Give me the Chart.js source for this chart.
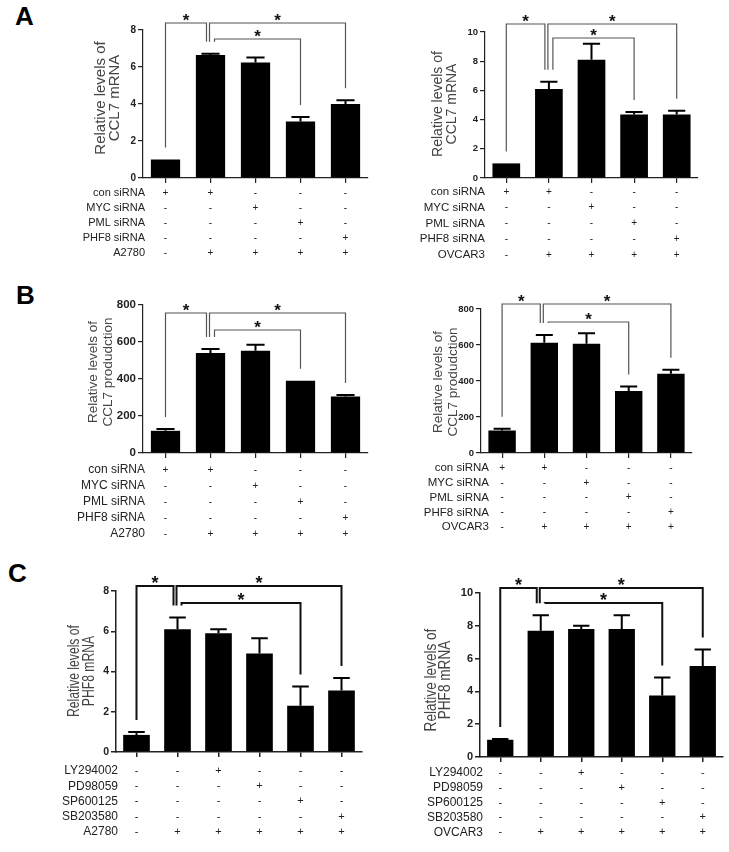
<!DOCTYPE html>
<html>
<head>
<meta charset="utf-8">
<script src="https://cdn.jsdelivr.net/npm/chart.js@4.4.1/dist/chart.umd.min.js"></script>
<style>
  body { margin: 0; background: #fff; width: 729px; height: 852px; position: relative; overflow: hidden; }
  canvas { position: absolute; }
  .letter { position: absolute; font: bold 26px "Liberation Sans", Arial, sans-serif; line-height: 26px; color: #000; }
</style>
</head>
<body>
<div class="letter" style="left:15px;top:3px">A</div>
<div class="letter" style="left:16px;top:282px">B</div>
<div class="letter" style="left:8px;top:560px">C</div>

<canvas id="aLeft"></canvas>
<canvas id="aRight"></canvas>
<canvas id="bLeft"></canvas>
<canvas id="bRight"></canvas>
<canvas id="cLeft"></canvas>
<canvas id="cRight"></canvas>

<script>
/* DATA */

const sirnaLanes = ['Mock', 'con siRNA', 'MYC siRNA', 'PML siRNA', 'PHF8 siRNA'];
const inhibitorLanes = ['Mock', 'Vehicle', 'LY294002', 'PD98059', 'SP600125', 'SB203580'];

// A: CCL7 mRNA
const ccl7MrnaA2780 = [1.0, 6.65, 6.25, 3.05, 4.0];
const ccl7MrnaA2780Err = [0, 0.06, 0.27, 0.25, 0.2];
const ccl7MrnaOvcar3 = [1.0, 6.1, 8.1, 4.35, 4.35];
const ccl7MrnaOvcar3Err = [0, 0.5, 1.1, 0.17, 0.25];

// B: CCL7 production
const ccl7ProdA2780 = [120, 540, 553, 390, 305];
const ccl7ProdA2780Err = [10, 22, 32, 0, 8];
const ccl7ProdOvcar3 = [125, 612, 607, 345, 440];
const ccl7ProdOvcar3Err = [10, 43, 58, 25, 22];

// C: PHF8 mRNA
const phf8MrnaA2780 = [0.85, 6.1, 5.9, 4.9, 2.3, 3.05];
const phf8MrnaA2780Err = [0.15, 0.58, 0.2, 0.75, 0.95, 0.63];
const phf8MrnaOvcar3 = [1.05, 7.7, 7.8, 7.8, 3.75, 5.55];
const phf8MrnaOvcar3Err = [0.05, 0.95, 0.2, 0.85, 1.1, 1.0];

// y tick labels
const ticksTo8 = [0, 2, 4, 6, 8];
const ticksTo10 = [0, 2, 4, 6, 8, 10];
const ticksTo800 = [0, 200, 400, 600, 800];

// treatment table under the bars
const sirnaRowLabels = ['con siRNA', 'MYC siRNA', 'PML siRNA', 'PHF8 siRNA'];
const sirnaSigns = [
  ['+', '+', '-', '-', '-'],
  ['-', '-', '+', '-', '-'],
  ['-', '-', '-', '+', '-'],
  ['-', '-', '-', '-', '+']
];
const inhibitorRowLabels = ['LY294002', 'PD98059', 'SP600125', 'SB203580'];
const inhibitorSigns = [
  ['-', '-', '+', '-', '-', '-'],
  ['-', '-', '-', '+', '-', '-'],
  ['-', '-', '-', '-', '+', '-'],
  ['-', '-', '-', '-', '-', '+']
];
const cellSigns5 = ['-', '+', '+', '+', '+'];
const cellSigns6 = ['-', '+', '+', '+', '+', '+'];

// significance brackets (lane pairs); the third one sits on the lower tier
const sigSirna = [[0, 1], [1, 4], [1, 3]];
const sigInhibitor = [[0, 1], [1, 5], [1, 4]];


/* OVERLAY: error bars, brackets, treatment table, y title */

const overlay = {
  id: 'overlay',
  afterDatasetsDraw(chart, args, o) {
    const c = chart.ctx;
    const ys = chart.scales.y;
    const xs = chart.scales.x;
    const bars = chart.getDatasetMeta(0).data;
    const ox = o.box[0], oy = o.box[1];
    const vals = o.values, errs = o.errors;
    c.save();

    // error bars
    c.strokeStyle = '#000';
    c.lineWidth = 2;
    bars.forEach(function(b, i) {
      if (!errs[i]) return;
      const top = ys.getPixelForValue(vals[i] + errs[i]);
      const half = b.width * 0.31;
      c.beginPath();
      c.moveTo(b.x, b.y);
      c.lineTo(b.x, top);
      c.moveTo(b.x - half, top);
      c.lineTo(b.x + half, top);
      c.stroke();
    });

    // brackets + stars
    const legEnd = i => ys.getPixelForValue(vals[i] + errs[i]) - 12;
    c.strokeStyle = o.heavy ? '#111' : '#555';
    c.lineWidth = o.heavy ? 2 : 1.2;
    c.fillStyle = '#111';
    c.font = 'bold ' + (o.heavy ? 18 : 17) + 'px "Liberation Sans", Arial, sans-serif';
    c.textAlign = 'center';
    c.textBaseline = 'alphabetic';
    o.brackets.forEach(function(pair, k) {
      const tier = k < 2 ? 0 : 1;
      const ly = o.tierY[tier] - oy;
      const a = pair[0], b = pair[1];
      let xa = xs.getPixelForValue(a);
      let xb = xs.getPixelForValue(b);
      if (a === 1) xa += tier === 0 ? -1 : 4;
      if (b === 1) xb -= 4;
      c.beginPath();
      c.moveTo(xa, legEnd(a));
      c.lineTo(xa, ly);
      c.lineTo(xb, ly);
      c.lineTo(xb, legEnd(b));
      c.stroke();
      c.fillText('*', (xa + xb) / 2, ly + 2.5);
    });

    // treatment table
    const rows = o.rowLabels.concat([o.cellLine]);
    const signs = o.signs.concat([o.cellSigns]);
    c.fillStyle = '#222';
    c.textBaseline = 'middle';
    rows.forEach(function(lab, r) {
      const ry = o.rowY0 + r * o.rowStep - oy;
      c.font = o.labelSize + 'px "Liberation Sans", Arial, sans-serif';
      c.textAlign = 'right';
      c.fillText(lab, o.labelRight - ox, ry);
      c.font = o.signSize + 'px "Liberation Sans", Arial, sans-serif';
      c.textAlign = 'center';
      signs[r].forEach(function(s, i) {
        c.fillText(s, xs.getPixelForValue(i), ry);
      });
    });

    // rotated y title
    c.fillStyle = '#444';
    c.textBaseline = 'alphabetic';
    c.font = o.titleSize + 'px "Liberation Sans", Arial, sans-serif';
    o.title.forEach(function(line, k) {
      c.save();
      c.translate(o.titleX[k] - ox, o.titleY - oy);
      c.rotate(-Math.PI / 2);
      c.scale(o.titleScale, 1);
      c.textAlign = 'center';
      c.fillText(line, 0, o.titleSize * 0.36);
      c.restore();
    });

    c.restore();
  }
};


function makePanel(id, p) {
  const el = document.getElementById(id);
  const box = p.box, plot = p.plot;
  el.width = box[2];
  el.height = box[3];
  el.style.left = box[0] + 'px';
  el.style.top = box[1] + 'px';
  const yW = 34, xH = 6;   // fixed axis boxes so the plot lands where wanted
  const axisColor = '#222';
  const axisW = p.heavy ? 1.5 : 1.2;

  return new Chart(el, {
    type: 'bar',
    data: {
      labels: p.lanes,
      datasets: [{
        data: p.values,
        backgroundColor: '#000',
        borderWidth: 0,
        barPercentage: 0.65,
        categoryPercentage: 1
      }]
    },
    options: {
      responsive: false,
      animation: false,
      devicePixelRatio: 1,
      layout: {
        padding: {
          left: plot[0] - box[0] - yW,
          top: plot[1] - box[1],
          right: box[0] + box[2] - plot[2],
          bottom: box[1] + box[3] - plot[3] - xH
        }
      },
      plugins: {
        legend: { display: false },
        tooltip: { enabled: false },
        overlay: p
      },
      scales: {
        x: {
          offset: true,
          grid: { drawOnChartArea: false, drawTicks: true, tickLength: 5, offset: false, color: axisColor, lineWidth: axisW },
          border: { display: true, color: axisColor, width: axisW },
          ticks: { display: false },
          afterFit: function(s) { s.height = xH; }
        },
        y: {
          min: 0,
          max: p.yTicks[p.yTicks.length - 1],
          grid: { drawOnChartArea: false, drawTicks: true, tickLength: 5, color: axisColor, lineWidth: axisW },
          border: { display: true, color: axisColor, width: axisW },
          ticks: {
            padding: 2,
            color: '#222',
            font: { family: '"Liberation Sans", Arial, sans-serif', size: p.tickSize, weight: 'bold' }
          },
          afterBuildTicks: function(s) { s.ticks = p.yTicks.map(v => ({ value: v })); },
          afterFit: function(s) { s.width = yW; }
        }
      }
    },
    plugins: [overlay]
  });
}

const mrnaTitle = ['Relative levels of', 'CCL7 mRNA'];
const prodTitle = ['Relative levels of', 'CCL7 produdction'];
const phf8Title = ['Relative levels of', 'PHF8 mRNA'];

makePanel('aLeft', {
  box: [0, 0, 370, 265], plot: [143, 30, 368, 178],
  lanes: sirnaLanes, values: ccl7MrnaA2780, errors: ccl7MrnaA2780Err, yTicks: ticksTo8, tickSize: 10,
  title: mrnaTitle, titleX: [100, 114], titleY: 98, titleSize: 15, titleScale: 1,
  tierY: [23, 39], brackets: sigSirna, heavy: false,
  rowLabels: sirnaRowLabels, signs: sirnaSigns, cellLine: 'A2780', cellSigns: cellSigns5,
  rowY0: 193, rowStep: 15, labelRight: 145, labelSize: 11, signSize: 10
});

makePanel('aRight', {
  box: [370, 0, 359, 265], plot: [485, 32, 698, 178],
  lanes: sirnaLanes, values: ccl7MrnaOvcar3, errors: ccl7MrnaOvcar3Err, yTicks: ticksTo10, tickSize: 9.5,
  title: mrnaTitle, titleX: [437, 451], titleY: 104, titleSize: 14, titleScale: 1,
  tierY: [24, 38], brackets: sigSirna, heavy: false,
  rowLabels: sirnaRowLabels, signs: sirnaSigns, cellLine: 'OVCAR3', cellSigns: cellSigns5,
  rowY0: 192, rowStep: 15.7, labelRight: 485, labelSize: 11.5, signSize: 10
});

makePanel('bLeft', {
  box: [0, 265, 370, 280], plot: [143, 305, 368, 453],
  lanes: sirnaLanes, values: ccl7ProdA2780, errors: ccl7ProdA2780Err, yTicks: ticksTo800, tickSize: 11.5,
  title: prodTitle, titleX: [92, 107], titleY: 372, titleSize: 13.5, titleScale: 1,
  tierY: [313, 330], brackets: sigSirna, heavy: false,
  rowLabels: sirnaRowLabels, signs: sirnaSigns, cellLine: 'A2780', cellSigns: cellSigns5,
  rowY0: 470, rowStep: 16, labelRight: 145, labelSize: 12, signSize: 10
});

makePanel('bRight', {
  box: [370, 265, 359, 280], plot: [481, 309, 692, 453],
  lanes: sirnaLanes, values: ccl7ProdOvcar3, errors: ccl7ProdOvcar3Err, yTicks: ticksTo800, tickSize: 9.5,
  title: prodTitle, titleX: [437, 452], titleY: 382, titleSize: 13.5, titleScale: 1,
  tierY: [304, 322], brackets: sigSirna, heavy: false,
  rowLabels: sirnaRowLabels, signs: sirnaSigns, cellLine: 'OVCAR3', cellSigns: cellSigns5,
  rowY0: 468, rowStep: 14.8, labelRight: 489, labelSize: 11.5, signSize: 10
});

makePanel('cLeft', {
  box: [0, 545, 370, 307], plot: [116, 591, 362, 752],
  lanes: inhibitorLanes, values: phf8MrnaA2780, errors: phf8MrnaA2780Err, yTicks: ticksTo8, tickSize: 10.5,
  title: phf8Title, titleX: [73, 88], titleY: 671, titleSize: 16, titleScale: 0.76,
  tierY: [586, 603], brackets: sigInhibitor, heavy: true,
  rowLabels: inhibitorRowLabels, signs: inhibitorSigns, cellLine: 'A2780', cellSigns: cellSigns6,
  rowY0: 771, rowStep: 15.2, labelRight: 118, labelSize: 12, signSize: 11
});

makePanel('cRight', {
  box: [370, 545, 359, 307], plot: [480, 593, 723, 757],
  lanes: inhibitorLanes, values: phf8MrnaOvcar3, errors: phf8MrnaOvcar3Err, yTicks: ticksTo10, tickSize: 11,
  title: phf8Title, titleX: [430, 444], titleY: 680, titleSize: 16, titleScale: 0.85,
  tierY: [588, 603], brackets: sigInhibitor, heavy: true,
  rowLabels: inhibitorRowLabels, signs: inhibitorSigns, cellLine: 'OVCAR3', cellSigns: cellSigns6,
  rowY0: 773, rowStep: 14.8, labelRight: 483, labelSize: 12, signSize: 11
});
</script>
</body>
</html>
